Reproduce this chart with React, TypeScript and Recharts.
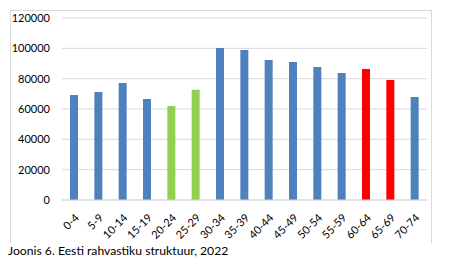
import React from 'react';
import { BarChart, Bar, XAxis, YAxis, CartesianGrid, Cell } from 'recharts';

const ageGroups = ['0-4', '5-9', '10-14', '15-19', '20-24', '25-29', '30-34', '35-39', '40-44', '45-49', '50-54', '55-59', '60-64', '65-69', '70-74'];
const population = [69200, 71200, 77100, 66600, 62000, 72700, 100200, 98900, 92300, 91000, 87700, 83700, 86400, 79100, 67900];
const yTicks = [0, 20000, 40000, 60000, 80000, 100000, 120000];
const greenGroups = ['20-24', '25-29'];
const redGroups = ['60-64', '65-69'];
const caption = 'Joonis 6. Eesti rahvastiku struktuur, 2022';

const data = ageGroups.map((g, i) => ({ group: g, value: population[i] }));

const colorFor = (g: string) =>
  greenGroups.includes(g) ? '#92D050' : redGroups.includes(g) ? '#FF0000' : '#4F81BD';

const FONT = 'Lato, "Open Sans", sans-serif';

export default function App() {
  return (
    <div style={{ position: 'absolute', left: 0, top: 0, width: 449, height: 262, background: '#fff', fontFamily: FONT }}>
      <div
        style={{
          position: 'absolute',
          left: 10,
          top: 10,
          width: 420,
          height: 232,
          borderTop: '1px solid #d9d9d9',
          borderLeft: '1px solid #d9d9d9',
          borderRight: '1px solid #d9d9d9',
        }}
      />
      <div style={{ position: 'absolute', left: 0, top: 0 }}>
        <BarChart
          width={449}
          height={245}
          data={data}
          margin={{ top: 18, right: 22, left: 10, bottom: 5 }}
        >
          <CartesianGrid vertical={false} stroke="#d9d9d9" />
          <XAxis
            dataKey="group"
            height={40}
            interval={0}
            axisLine={{ stroke: '#d9d9d9' }}
            tickLine={false}
            tickMargin={7}
            angle={-45}
            textAnchor="end"
            tick={{ fill: '#000', fontSize: 11, fontFamily: FONT }}
          />
          <YAxis
            width={52}
            domain={[0, 120000]}
            ticks={yTicks}
            axisLine={false}
            tickLine={false}
            tickMargin={6}
            tick={{ fill: '#000', fontSize: 11, fontFamily: FONT }}
          />
          <Bar dataKey="value" barSize={8} isAnimationActive={false}>
            {data.map((d) => (
              <Cell key={d.group} fill={colorFor(d.group)} />
            ))}
          </Bar>
        </BarChart>
      </div>
      <div style={{ position: 'absolute', left: 8, top: 243, fontSize: 12.2, color: '#000', whiteSpace: 'nowrap' }}>
        {caption}
      </div>
    </div>
  );
}
